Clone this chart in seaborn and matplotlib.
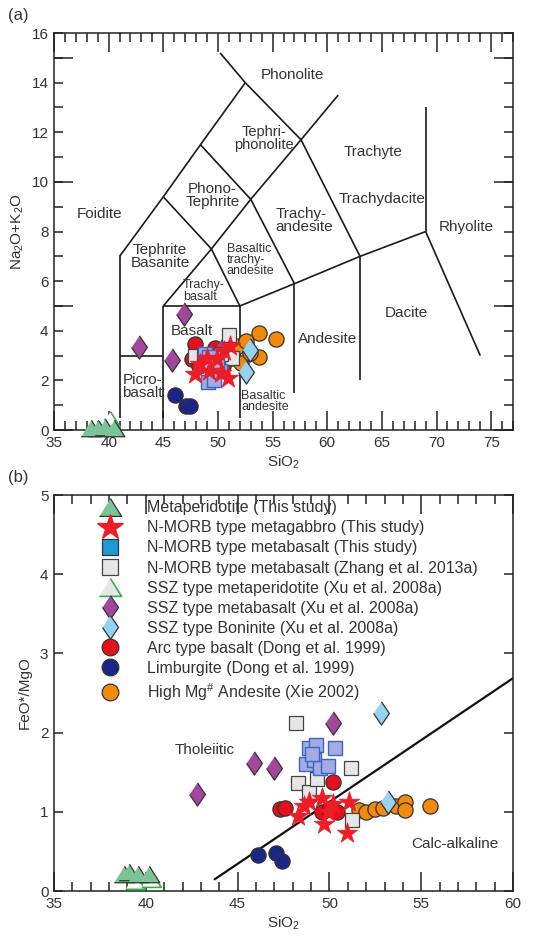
import numpy as np
import pandas as pd
import matplotlib
matplotlib.use('Agg')
import matplotlib.pyplot as plt
from matplotlib.lines import Line2D
from matplotlib.ticker import MultipleLocator, FixedLocator, FuncFormatter
import seaborn as sns

sns.set_style('ticks')
plt.rcParams['font.family'] = ['Liberation Sans', 'DejaVu Sans']
plt.rcParams['mathtext.fontset'] = 'custom'
plt.rcParams['mathtext.rm'] = 'Liberation Sans'
plt.rcParams['mathtext.it'] = 'Liberation Sans:italic'
plt.rcParams['mathtext.bf'] = 'Liberation Sans:bold'

TXT = '#333333'

# ----------------------- data (a) TAS: SiO2 vs Na2O+K2O

meta_tas_x = [38.4, 39.0, 39.7, 40.5]
meta_tas_y = [0.10, 0.10, 0.12, 0.10]
ssz_per_tas_x = [39.6, 40.1]
ssz_per_tas_y = [0.18, 0.45]
gabbro_tas_x = [47.9, 48.4, 49.0, 49.2, 49.9, 50.3, 50.6, 51.1, 50.9]
gabbro_tas_y = [2.25, 2.65, 2.90, 2.40, 2.85, 2.30, 3.20, 3.40, 2.10]
nmorb_tas_x = [48.8, 49.2, 49.5, 49.1, 49.6, 50.2, 49.9, 48.9]
nmorb_tas_y = [3.05, 2.95, 2.40, 1.95, 2.00, 2.40, 2.60, 2.70]
zhang_tas_x = [51.0, 47.9, 51.3, 50.3, 49.3, 48.7]
zhang_tas_y = [3.85, 3.00, 2.90, 3.05, 2.75, 3.00]
ssz_bas_tas_x = [42.8, 46.9, 45.8, 50.3]
ssz_bas_tas_y = [3.35, 4.66, 2.84, 3.20]
bon_tas_x = [52.9, 52.6]
bon_tas_y = [3.24, 2.36]
arc_tas_x = [47.9, 47.6, 48.3, 49.7, 50.1, 50.5]
arc_tas_y = [3.45, 2.85, 2.60, 3.30, 3.00, 2.60]
limb_tas_x = [46.1, 47.1, 47.4]
limb_tas_y = [1.42, 0.95, 0.97]
hma_tas_x = [51.4, 51.8, 52.6, 53.8, 55.3, 53.8, 52.1, 52.9]
hma_tas_y = [2.90, 3.40, 3.60, 3.90, 3.65, 2.95, 2.70, 3.10]

# ----------------------- data (b) SiO2 vs FeO*/MgO

meta_fm_x = [38.8, 39.1, 39.6, 40.15]
meta_fm_y = [0.22, 0.24, 0.21, 0.22]
ssz_per_fm_x = [39.4, 40.3]
ssz_per_fm_y = [0.13, 0.15]
gabbro_fm_x = [48.3, 48.6, 48.9, 49.6, 49.9, 49.7, 50.2, 51.05, 50.95]
gabbro_fm_y = [0.95, 1.07, 1.12, 1.18, 1.00, 0.84, 1.10, 1.13, 0.73]
nmorb_fm_x = [48.9, 49.25, 50.3, 48.7, 49.15, 49.5, 49.9, 49.05]
nmorb_fm_y = [1.80, 1.85, 1.80, 1.60, 1.65, 1.55, 1.58, 1.73]
zhang_fm_x = [48.2, 48.3, 48.9, 51.2, 51.25, 49.3]
zhang_fm_y = [2.12, 1.36, 1.25, 1.55, 0.90, 1.42]
ssz_bas_fm_x = [42.8, 45.9, 47.0, 50.2]
ssz_bas_fm_y = [1.22, 1.62, 1.55, 2.12]
bon_fm_x = [52.8, 53.2]
bon_fm_y = [2.25, 1.12]
arc_fm_x = [47.3, 47.6, 49.6, 50.0, 50.4, 50.2]
arc_fm_y = [1.03, 1.05, 1.00, 1.04, 1.00, 1.38]
limb_fm_x = [46.1, 47.1, 47.4]
limb_fm_y = [0.45, 0.48, 0.38]
hma_fm_x = [51.6, 52.0, 52.5, 52.9, 53.6, 54.1, 54.1, 55.5]
hma_fm_y = [1.02, 1.00, 1.03, 1.05, 1.07, 1.12, 1.02, 1.07]

# TAS field boundaries
tas_lines = [
    [(41, 0.5), (41, 7)],
    [(41, 3), (45, 3)],
    [(45, 0.5), (45, 5)],
    [(45, 5), (52, 5)],
    [(52, 0.5), (52, 5)],
    [(41, 7), (45, 9.4), (48.4, 11.5), (52.5, 14)],
    [(50.2, 15.2), (52.5, 14), (57.6, 11.7), (63, 7)],
    [(45, 5), (49.4, 7.3), (53, 9.3), (57.6, 11.7), (61, 13.5)],
    [(45, 9.4), (49.4, 7.3), (52, 5)],
    [(48.4, 11.5), (53, 9.3), (57, 5.9)],
    [(52, 5), (57, 5.9), (63, 7), (69, 8)],
    [(57, 1.5), (57, 5.9)],
    [(63, 2.0), (63, 7)],
    [(69, 8), (69, 13)],
    [(69, 8), (74, 3)],
]

# field name, x, y, size, alignment
tas_names = [
    ('Phonolite', 56.8, 14.3, 11, 'center'),
    ('Tephri-\nphonolite', 54.2, 11.75, 10.5, 'center'),
    ('Trachyte', 64.2, 11.2, 11, 'center'),
    ('Phono-\nTephrite', 49.5, 9.45, 11, 'center'),
    ('Foidite', 39.2, 8.7, 11, 'center'),
    ('Trachydacite', 65.0, 9.3, 11, 'center'),
    ('Trachy-\nandesite', 57.9, 8.45, 11, 'left'),
    ('Rhyolite', 72.7, 8.2, 11, 'center'),
    ('Tephrite\nBasanite', 44.7, 7.0, 11, 'center'),
    ('Basaltic\ntrachy-\nandesite', 53.0, 6.85, 9, 'left'),
    ('Trachy-\nbasalt', 48.7, 5.6, 9, 'left'),
    ('Dacite', 67.2, 4.7, 11, 'center'),
    ('Andesite', 60.0, 3.65, 11, 'center'),
    ('Basalt', 47.6, 4.0, 11, 'center'),
    ('Picro-\nbasalt', 43.1, 1.75, 11, 'left'),
    ('Basaltic\nandesite', 54.3, 1.15, 9, 'left'),
]

# Miyashiro tholeiitic / calc-alkaline divider
miya_x = [43.75, 60.0]
miya_y = [0.148, 2.6875]

# ----------------------- styles

tri = [(-1, -0.8), (1, -0.8), (0, 0.8)]
dia = [(0, 1), (0.68, 0), (0, -1), (-0.68, 0)]

groups = [
    # label, key, marker, size, face, edge, lw, legend face, legend size
    ('SSZ type metaperidotite (Xu et al. 2008a)', 'ssz_per', tri, 200, 'white', '#2db34a', 1.2, '#e6e6e6', 16),
    ('Metaperidotite (This study)', 'meta', tri, 220, '#7cc496', '#333333', 0.9, '#7cc496', 16),
    ('High Mg$^{\\#}$ Andesite (Xie 2002)', 'hma', 'o', 120, '#f28a0c', '#333333', 0.9, '#f28a0c', 12),
    ('Limburgite (Dong et al. 1999)', 'limb', 'o', 120, '#1b2585', '#333333', 0.9, '#1b2585', 12),
    ('Arc type basalt (Dong et al. 1999)', 'arc', 'o', 120, '#e5101c', '#333333', 0.9, '#e5101c', 12),
    ('SSZ type metabasalt (Xu et al. 2008a)', 'ssz_bas', dia, 280, '#a2479c', '#333333', 0.9, '#a2479c', 17),
    ('SSZ type Boninite (Xu et al. 2008a)', 'bon', dia, 280, '#95d4f1', '#333333', 0.9, '#95d4f1', 17),
    ('N-MORB type metabasalt (Zhang et al. 2013a)', 'zhang', 's', 115, '#e6e6e6', '#444444', 0.9, '#e6e6e6', 11),
    ('N-MORB type metabasalt (This study)', 'nmorb', 's', 115, '#a3ace0', '#3d63c6', 1.0, '#1c9ad6', 11),
    ('N-MORB type metagabbro (This study)', 'gabbro', '*', 240, '#ee1c25', '#ee1c25', 0.5, '#ee1c25', 19),
]

legend_order = [
    'Metaperidotite (This study)',
    'N-MORB type metagabbro (This study)',
    'N-MORB type metabasalt (This study)',
    'N-MORB type metabasalt (Zhang et al. 2013a)',
    'SSZ type metaperidotite (Xu et al. 2008a)',
    'SSZ type metabasalt (Xu et al. 2008a)',
    'SSZ type Boninite (Xu et al. 2008a)',
    'Arc type basalt (Dong et al. 1999)',
    'Limburgite (Dong et al. 1999)',
    'High Mg$^{\\#}$ Andesite (Xie 2002)',
]

data = globals()

# ----------------------- figure

fig = plt.figure(figsize=(5.42, 9.39), dpi=100)
ax1 = fig.add_axes([0.0996, 0.542, 0.847, 0.4228])
ax2 = fig.add_axes([0.0996, 0.0511, 0.847, 0.4217])

for ax in (ax1, ax2):
    for sp in ax.spines.values():
        sp.set_linewidth(1.1)
        sp.set_color('#222222')

# (a) lines + names
for seg in tas_lines:
    xs, ys = zip(*seg)
    ax1.plot(xs, ys, color='#1a1a1a', lw=1.2, solid_capstyle='butt', zorder=1)
for name, x, y, fs, al in tas_names:
    ax1.text(x, y, name, fontsize=fs, ha='center', va='center', color=TXT,
             multialignment=al, linespacing=0.92, zorder=2)

handles = {}
for i, (lab, key, mk, s, fc, ec, lw, lfc, lms) in enumerate(groups):
    for ax, sfx in ((ax1, 'tas'), (ax2, 'fm')):
        df = pd.DataFrame({'x': data['%s_%s_x' % (key, sfx)],
                           'y': data['%s_%s_y' % (key, sfx)]})
        sns.scatterplot(data=df, x='x', y='y', ax=ax, marker=mk, s=s,
                        color=fc, edgecolor=ec, linewidth=lw,
                        zorder=3 + i, clip_on=False, legend=False)
    handles[lab] = Line2D([], [], ls='none', marker=mk, markersize=lms,
                          markerfacecolor=lfc,
                          markeredgecolor='#333333' if key == 'nmorb' else ec,
                          markeredgewidth=1.2 if key == 'ssz_per' else 0.9)

# axes (a)
ax1.set_xlim(35, 77)
ax1.set_ylim(0, 16)
ax1.xaxis.set_major_locator(MultipleLocator(5))
ax1.xaxis.set_minor_locator(MultipleLocator(1))
ax1.yaxis.set_major_locator(FixedLocator([0, 5, 10, 15]))
ax1.yaxis.set_minor_locator(MultipleLocator(1))
ax1.yaxis.remove_overlapping_locs = False
ax1.yaxis.set_major_formatter(FuncFormatter(lambda v, p: ''))
ax1.yaxis.set_minor_formatter(FuncFormatter(lambda v, p: '%d' % v if int(round(v)) % 2 == 0 else ''))
ax1.tick_params(axis='both', which='major', direction='in', length=13.5, width=1.1,
                top=True, right=True, color='#222222', labelsize=11, labelcolor=TXT, pad=4)
ax1.tick_params(axis='both', which='minor', direction='in', length=6.5, width=1.1,
                top=True, right=True, color='#222222', labelsize=11, labelcolor=TXT, pad=4)
ax1.set_xlabel('SiO$_2$', fontsize=11, color=TXT, labelpad=3)
ax1.set_ylabel('Na$_2$O+K$_2$O', fontsize=11, color=TXT, labelpad=4)

# (b)
ax2.plot(miya_x, miya_y, color='#111111', lw=1.6, zorder=2)
ax2.text(43.2, 1.78, 'Tholeiitic', fontsize=11, ha='center', va='center', color=TXT)
ax2.text(56.85, 0.59, 'Calc-alkaline', fontsize=11, ha='center', va='center', color=TXT)

ax2.set_xlim(35, 60)
ax2.set_ylim(0, 5)
ax2.xaxis.set_major_locator(MultipleLocator(5))
ax2.xaxis.set_minor_locator(MultipleLocator(1))
ax2.yaxis.set_major_locator(MultipleLocator(1))
ax2.tick_params(axis='x', which='major', direction='in', length=13.5, width=1.1,
                top=True, color='#222222', labelsize=11, labelcolor=TXT, pad=4)
ax2.tick_params(axis='x', which='minor', direction='in', length=6.5, width=1.1,
                top=True, color='#222222')
ax2.tick_params(axis='y', which='major', direction='in', length=6.5, width=1.1,
                right=True, color='#222222', labelsize=11, labelcolor=TXT, pad=4)
ax2.set_xlabel('SiO$_2$', fontsize=11, color=TXT, labelpad=3)
ax2.set_ylabel('FeO*/MgO', fontsize=11, color=TXT, labelpad=6)

leg = ax2.legend([handles[k] for k in legend_order], legend_order,
                 loc='upper left', bbox_to_anchor=(0.098, 0.987), frameon=False,
                 fontsize=11.5, handlelength=1.4, handletextpad=1.6,
                 labelspacing=0.32, borderpad=0, borderaxespad=0)
for t in leg.get_texts():
    t.set_color(TXT)

fig.text(0.015, 0.983, '(a)', fontsize=12, color=TXT, va='center')
fig.text(0.015, 0.491, '(b)', fontsize=12, color=TXT, va='center')

fig.savefig('out.png', dpi=100)
